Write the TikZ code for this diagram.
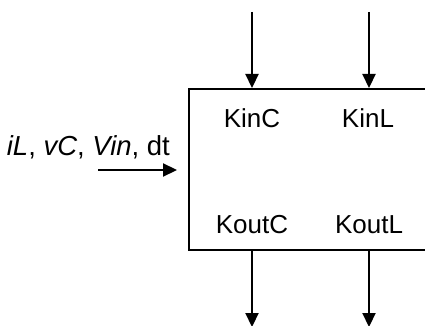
\documentclass[tikz,border=0pt]{standalone}
\usepackage{fontspec}
\setmainfont{Liberation Sans}
\usepackage{tikz}
\usetikzlibrary{arrows.meta, positioning}

\begin{document}
\begin{tikzpicture}[
			x=1pt,
			y=-1pt,
			line width=2.2pt,
			sig/.style={-{Triangle[width=13pt,length=14pt]}},
			every node/.style={
					font=\fontsize{26}{30}\selectfont,
					inner sep=0pt
				}
		]
		\useasboundingbox (0, 0) rectangle (425, 326);

		% the block, its right side runs off the page
		\node[
			draw,
			minimum width=244pt,
			minimum height=161pt,
			anchor=north west
		] (blk) at (188, 88) {};

		\node[anchor=base] (kinc) at (252, 128) {KinC};
		\node[anchor=base] (kinl) at (368, 128) {KinL};
		\node[anchor=base] (koutc) at (252, 233) {KoutC};
		\node[anchor=base] (koutl) at (369, 233) {KoutL};

		% inputs
		\node[anchor=base east, font=\fontsize{27.5}{30}\selectfont] (vars) at (171, 155)
		{\textit{iL}, \textit{vC}, \textit{Vin}, dt};
		\coordinate (vin) at (98, 170);
		\draw[sig] (vin) -- ([xshift=-11pt]vin -| blk.west);

		\coordinate (topc) at (252, 12);
		\coordinate (topl) at (369, 12);
		\draw[sig] (topc) -- (topc |- blk.north);
		\draw[sig] (topl) -- (topl |- blk.north);

		% outputs
		\coordinate (botc) at (252, 327);
		\coordinate (botl) at (369, 327);
		\draw[sig] (botc |- blk.south) -- (botc);
		\draw[sig] (botl |- blk.south) -- (botl);
	\end{tikzpicture}
\end{document}
